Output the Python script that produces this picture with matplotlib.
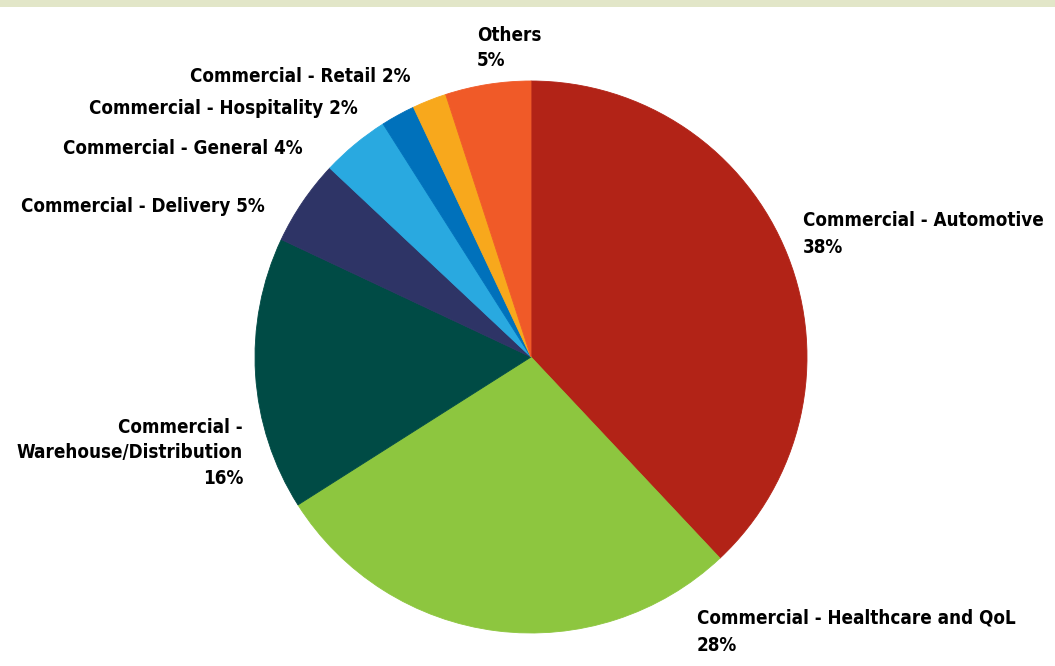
import matplotlib
matplotlib.use("Agg")
import matplotlib.pyplot as plt
from matplotlib.patches import Rectangle

# ---- data ----
categories = [
    "Commercial - Automotive",
    "Commercial - Healthcare and QoL",
    "Commercial -\nWarehouse/Distribution",
    "Commercial - Delivery",
    "Commercial - General",
    "Commercial - Hospitality",
    "Commercial - Retail",
    "Others",
]
shares = [38, 28, 16, 5, 4, 2, 2, 5]
colors = ["#B22317", "#8DC63F", "#004B45", "#2E3466",
          "#29A9E0", "#0071BB", "#F8A81C", "#F05A28"]

W, H = 1055, 666

fig = plt.figure(figsize=(W / 100, H / 100), dpi=100)
fig.patch.set_facecolor("white")
ax = fig.add_axes([0, 0, 1, 1])

cx, cy, r = 531, 357, 276
wedges, _ = ax.pie(shares, colors=colors, startangle=90, counterclock=False,
                   center=(cx, H - cy), radius=r)
for w, c in zip(wedges, colors):
    w.set_edgecolor(c)
    w.set_linewidth(0.6)
ax.set_xlim(0, W)
ax.set_ylim(0, H)
ax.set_aspect("equal")
ax.axis("off")

# top band
ax.add_patch(Rectangle((0, H - 7), W, 7, facecolor="#E2E6C8",
                       edgecolor="none", zorder=0))

def P(px, py):
    return px, H - py

kw = dict(fontsize=13.5, family="DejaVu Sans", fontstretch="condensed",
          fontweight="bold", color="black")

def pct(v):
    return f"{v}%"

LS = 1.55
# Automotive
ax.text(*P(803, 234), f"{categories[0]}\n{pct(shares[0])}", ha="left",
        va="center", linespacing=LS, **kw)
# Healthcare
ax.text(*P(697, 632), f"{categories[1]}\n{pct(shares[1])}", ha="left",
        va="center", linespacing=LS, **kw)
# Warehouse
ax.text(*P(243, 453), f"{categories[2]}\n{pct(shares[2])}", ha="right",
        va="center", linespacing=1.45, multialignment="right", **kw)
# single-line labels, right aligned
for idx, (px, py) in zip([3, 4, 5, 6],
                         [(265, 207), (303, 148), (358, 108), (410, 77)]):
    ax.text(*P(px, py), f"{categories[idx]} {pct(shares[idx])}",
            ha="right", va="center", **kw)
# Others
ax.text(*P(477, 48), f"{categories[7]}\n{pct(shares[7])}", ha="left",
        va="center", linespacing=1.4, **kw)

fig.savefig("out.png", dpi=100, facecolor="white")
